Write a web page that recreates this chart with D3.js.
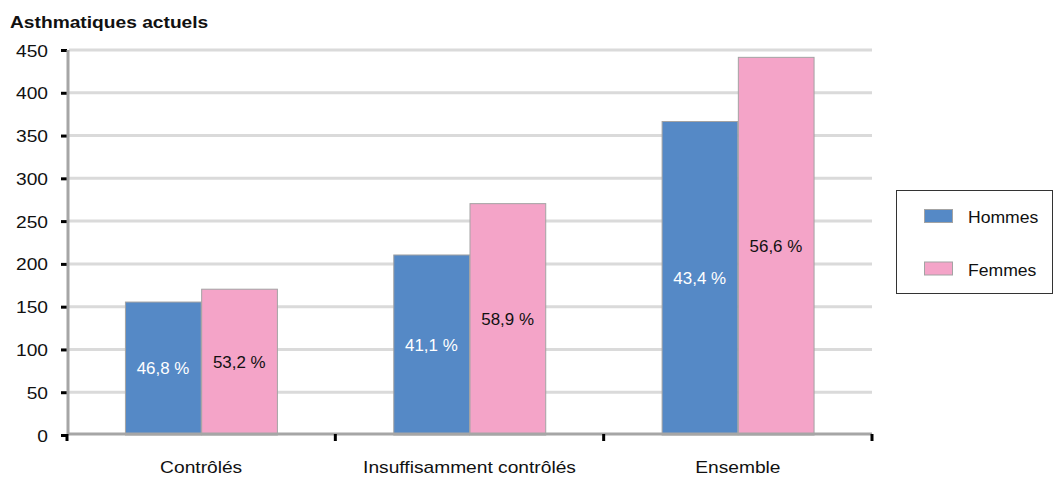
<!DOCTYPE html>
<html>
<head>
<meta charset="utf-8">
<script src="https://cdn.jsdelivr.net/npm/d3@7"></script>
<style>
  html, body { margin: 0; padding: 0; background: #fff; }
  svg { display: block; font-family: "Liberation Sans", Arial, sans-serif; }
</style>
</head>
<body>
<svg id="chart" width="1055" height="478"></svg>
<script>
// Data
const categories = ["Contrôlés", "Insuffisamment contrôlés", "Ensemble"];
const series = ["Hommes", "Femmes"];
const hommes = [156, 211, 367];
const femmes = [171, 271, 442];
const hommesPct = ["46,8 %", "41,1 %", "43,4 %"];
const femmesPct = ["53,2 %", "58,9 %", "56,6 %"];
const yTicks = [0, 50, 100, 150, 200, 250, 300, 350, 400, 450];
const title = "Asthmatiques actuels";

const colors = { Hommes: "#5589c6", Femmes: "#f4a4c8" };
const labelColors = { Hommes: "#ffffff", Femmes: "#111111" };
const SX = 1.2; // horizontal text widening

const svg = d3.select("#chart");
const plot = { left: 67, right: 872, top: 50, bottom: 435 };

const x0 = d3.scaleBand().domain(categories).range([plot.left, plot.right]).padding(0);
const x1 = d3.scaleBand().domain(series).range([0, x0.bandwidth()])
  .paddingInner(0).paddingOuter(0.76);
const y = d3.scaleLinear().domain([0, 450]).range([plot.bottom, plot.top]);

// Title
svg.append("text")
  .attr("transform", `translate(10,27.5) scale(${SX},1)`)
  .attr("font-size", 16).attr("font-weight", "bold").attr("fill", "#111")
  .text(title);

// Gridlines
svg.append("g").selectAll("line").data(yTicks.filter(d => d > 0)).join("line")
  .attr("x1", plot.left + 2).attr("x2", plot.right)
  .attr("y1", d => y(d)).attr("y2", d => y(d))
  .attr("stroke", "#dadada").attr("stroke-width", 3);

// Bars
const rows = categories.map((c, i) => ({
  cat: c,
  items: [
    { key: "Hommes", value: hommes[i], pct: hommesPct[i] },
    { key: "Femmes", value: femmes[i], pct: femmesPct[i] }
  ]
}));

const groups = svg.append("g").selectAll("g").data(rows).join("g")
  .attr("transform", d => `translate(${x0(d.cat)},0)`);

groups.selectAll("rect").data(d => d.items).join("rect")
  .attr("x", d => x1(d.key) + 0.5)
  .attr("y", d => y(d.value) + 0.5)
  .attr("width", x1.bandwidth() - 0.5)
  .attr("height", d => y(0) - y(d.value) - 0.5)
  .attr("fill", d => colors[d.key])
  .attr("stroke", "#a3a3a3").attr("stroke-width", 1);

groups.selectAll("text").data(d => d.items).join("text")
  .attr("transform", d => `translate(${x1(d.key) + x1.bandwidth() / 2},${(y(d.value) + y(0)) / 2 + 5.8}) scale(1.06,1)`)
  .attr("text-anchor", "middle")
  .attr("font-size", 16)
  .attr("fill", d => labelColors[d.key])
  .text(d => d.pct);

// Y axis
const yAxis = svg.append("g")
  .attr("transform", `translate(${plot.left},0)`)
  .call(d3.axisLeft(y).tickValues(yTicks).tickSize(6).tickPadding(0).tickFormat(d3.format("d")));
yAxis.select(".domain").remove();
yAxis.selectAll(".tick line").attr("stroke", "#000").attr("stroke-width", 3);
yAxis.selectAll(".tick text")
  .attr("x", null).attr("dy", null)
  .attr("transform", `translate(-19,6) scale(${SX},1)`)
  .attr("font-size", 16).attr("font-family", "Liberation Sans, Arial, sans-serif")
  .attr("fill", "#111");
svg.append("line")
  .attr("x1", plot.left + 1).attr("x2", plot.left + 1)
  .attr("y1", plot.top).attr("y2", plot.bottom)
  .attr("stroke", "#a6a6a6").attr("stroke-width", 3);

// X axis
svg.append("line")
  .attr("x1", plot.left).attr("x2", plot.right)
  .attr("y1", plot.bottom - 1).attr("y2", plot.bottom - 1)
  .attr("stroke", "#a6a6a6").attr("stroke-width", 3);
const bounds = categories.map(c => x0(c)).concat([plot.right]);
svg.append("g").selectAll("line").data(bounds).join("line")
  .attr("x1", d => d).attr("x2", d => d)
  .attr("y1", plot.bottom - 1).attr("y2", plot.bottom + 6)
  .attr("stroke", "#000").attr("stroke-width", 3);
svg.append("g").selectAll("text").data(categories).join("text")
  .attr("transform", d => `translate(${x0(d) + x0.bandwidth() / 2},472.5) scale(${SX},1)`)
  .attr("text-anchor", "middle").attr("font-size", 16).attr("fill", "#111")
  .text(d => d);

// Legend
const legend = svg.append("g");
legend.append("rect")
  .attr("x", 896.5).attr("y", 190.5).attr("width", 156).attr("height", 103)
  .attr("fill", "#fff").attr("stroke", "#333").attr("stroke-width", 1);
const legendY = { Hommes: 209.5, Femmes: 262 };
series.forEach(s => {
  legend.append("rect")
    .attr("x", 924.5).attr("y", legendY[s]).attr("width", 28).attr("height", 13)
    .attr("fill", colors[s]).attr("stroke", "#a3a3a3").attr("stroke-width", 1);
  legend.append("text")
    .attr("transform", `translate(968,${legendY[s] + 13.8}) scale(1.1,1)`)
    .attr("font-size", 16).attr("fill", "#111")
    .text(s);
});
</script>
</body>
</html>
